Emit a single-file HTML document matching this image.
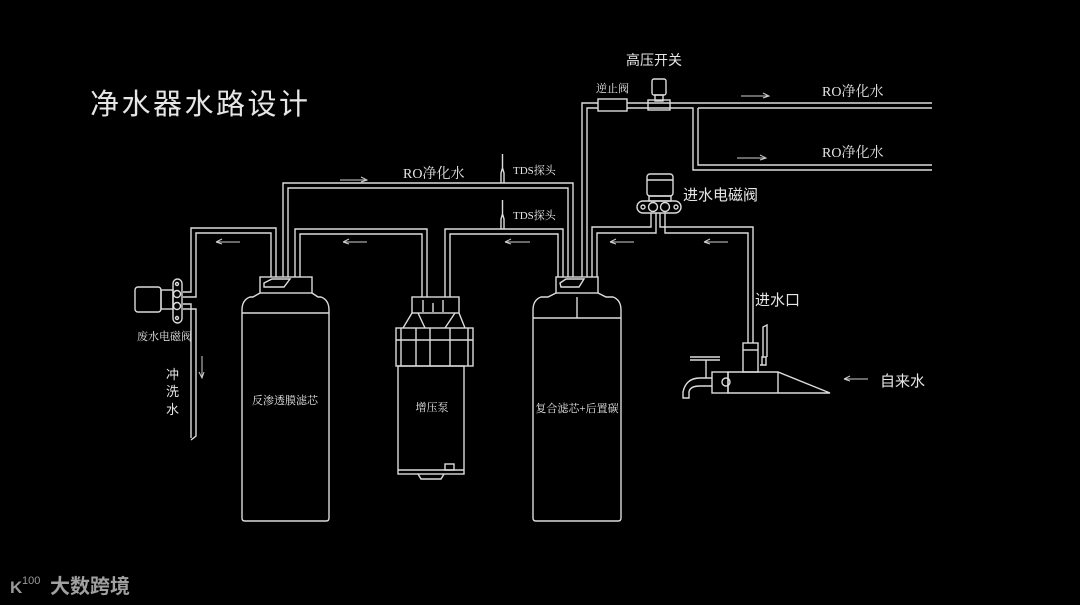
<!DOCTYPE html>
<html><head><meta charset="utf-8"><style>
html,body{margin:0;padding:0;background:#000;}
body{width:1080px;height:605px;overflow:hidden;}
svg{display:block}
text{fill:#e6e6e6;font-family:"Liberation Serif","Noto Serif CJK SC","Noto Sans CJK SC",serif;}
.s{font-family:"Liberation Sans","Noto Sans CJK SC",sans-serif;}
</style></head><body>
<svg width="1080" height="605" viewBox="0 0 1080 605" xmlns="http://www.w3.org/2000/svg">
<g fill="none" stroke="#dcdcdc" stroke-width="1.4">
<polyline points="183,292 191,292 191,228 276,228 276,277"/>
<polyline points="183,297 196,297 196,233 271,233 271,277"/>
<polyline points="183,304 191,304 191,438"/>
<polyline points="183,309 196,309 196,436 191,440"/>
<polyline points="283,277 283,183 573,183 573,277"/>
<polyline points="288,277 288,188 568,188 568,277"/>
<polyline points="295,277 295,229 427,229 427,297"/>
<polyline points="300,277 300,234 422,234 422,297"/>
<polyline points="445,297 445,229 563,229 563,277"/>
<polyline points="450,297 450,234 558,234 558,277"/>
<polyline points="582,277 582,103 598,103"/>
<polyline points="587,277 587,108 598,108"/>
<rect x="598" y="99" width="29" height="12"/>
<line x1="627" y1="103" x2="932" y2="103"/>
<polyline points="627,108 693,108 693,170 932,170"/>
<polyline points="698,108 932,108"/>
<polyline points="698,108 698,165 932,165"/>
<rect x="652" y="79" width="14" height="16" rx="2"/>
<rect x="655" y="95" width="8" height="6"/>
<rect x="648" y="100" width="22" height="10"/>
<polyline points="592,277 592,227 651,227 651,213"/>
<polyline points="597,277 597,233 656,233 656,213"/>
<polyline points="660,213 660,227 753,227 753,343"/>
<polyline points="665,213 665,233 748,233 748,343"/>
<rect x="647" y="174" width="26" height="22" rx="3"/>
<line x1="647" y1="180" x2="673" y2="180"/>
<rect x="649" y="196" width="22" height="5"/>
<rect x="637" y="201" width="44" height="12" rx="6"/>
<circle cx="653" cy="207" r="4.5"/><circle cx="665" cy="207" r="4.5"/>
<circle cx="643" cy="207" r="2"/><circle cx="676" cy="207" r="2"/>
<rect x="135" y="287" width="26" height="25" rx="3"/>
<rect x="161" y="290" width="12" height="19"/>
<rect x="173" y="279" width="9" height="44" rx="4.5"/>
<circle cx="177" cy="294" r="3.5"/><circle cx="177" cy="306" r="3.5"/>
<circle cx="177" cy="284" r="1.5"/><circle cx="177" cy="318" r="1.5"/>
<rect x="260" y="277" width="52" height="16"/>
<path d="M264,283 l8,-4 h18 l-6,8 h-20 z"/>
<path d="M260,293 L253,297 H250 Q242,300 242,310 V518 Q242,521 245,521 H326 Q329,521 329,518 V310 Q329,300 321,297 H318 L312,293"/>
<line x1="242" y1="313" x2="329" y2="313"/>
<rect x="412" y="297" width="47" height="16"/>
<line x1="423" y1="300" x2="423" y2="312"/><line x1="443" y1="300" x2="443" y2="312"/><line x1="433" y1="303" x2="433" y2="312"/>
<path d="M412,313 L403,328 M459,313 L465,328 M418,313 L425,328 M455,313 L445,328"/>
<rect x="396" y="328" width="77" height="38"/>
<line x1="401" y1="328" x2="401" y2="366"/><line x1="468" y1="328" x2="468" y2="366"/>
<line x1="396" y1="340" x2="473" y2="340"/>
<line x1="416" y1="328" x2="416" y2="366"/><line x1="430" y1="328" x2="430" y2="366"/><line x1="450" y1="328" x2="450" y2="366"/>
<rect x="398" y="366" width="66" height="108"/>
<line x1="398" y1="470" x2="464" y2="470"/>
<rect x="445" y="464" width="9" height="6"/>
<path d="M418,474 l3,5 h20 l3,-5"/>
<rect x="556" y="277" width="42" height="16"/>
<path d="M560,283 l6,-4 h18 l-5,8 h-18 z"/>
<path d="M556,293 L548,297 H541 Q533,300 533,310 V518 Q533,521 536,521 H618 Q621,521 621,518 V310 Q621,300 613,297 H606 L598,293"/>
<line x1="533" y1="318" x2="621" y2="318"/>
<line x1="577" y1="297" x2="577" y2="318"/>
<path d="M501,183 v-10 l1.5,-5 v-14 M504,183 v-10 l-1.5,-5"/>
<path d="M501,229 v-10 l1.5,-5 v-14 M504,229 v-10 l-1.5,-5"/>
<rect x="743" y="343" width="15" height="29"/>
<line x1="743" y1="350" x2="758" y2="350"/>
<path d="M760,365 h6 v-8 h-4 v8 M763,357 v-30 l4,-2 v32"/>
<rect x="712" y="372" width="16" height="21"/>
<path d="M728,372 H778 L830,393 H728 Z M778,372 v21"/>
<circle cx="726" cy="382" r="4"/>
<path d="M712,378 H700 Q686,378 683,392 v6 h6 v-6 Q690,386 700,386 H712"/>
<line x1="706" y1="378" x2="706" y2="360"/>
<line x1="690" y1="357" x2="720" y2="357"/>
<line x1="690" y1="360" x2="720" y2="360"/>
</g>
<g fill="none" stroke="#cfcfcf" stroke-width="1">
<path d="M340,180 h27 m-6,-3 l6,3 l-6,2"/>
<path d="M216,242 h24 m-24,0 l6,-3 m-6,3 l6,2"/>
<path d="M343,242 h24 m-24,0 l6,-3 m-6,3 l6,2"/>
<path d="M505,242 h25 m-25,0 l6,-3 m-6,3 l6,2"/>
<path d="M610,242 h24 m-24,0 l6,-3 m-6,3 l6,2"/>
<path d="M704,242 h24 m-24,0 l6,-3 m-6,3 l6,2"/>
<path d="M741,96 h28 m-6,-3 l6,3 l-6,2"/>
<path d="M737,158 h29 m-6,-3 l6,3 l-6,2"/>
<path d="M844,379 h24 m-24,0 l6,-3 m-6,3 l6,2"/>
<path d="M202,356 v22 m-3,-6 l3,6 l2,-6"/>
</g>
<text class="s" x="90" y="114" font-size="29" letter-spacing="2.5">净水器水路设计</text>
<text x="403" y="178" font-size="14">RO净化水</text>
<text x="513" y="174" font-size="11">TDS探头</text>
<text x="513" y="219" font-size="11">TDS探头</text>
<text class="s" x="626" y="65" font-size="14">高压开关</text>
<text x="596" y="92" font-size="11">逆止阀</text>
<text x="822" y="96" font-size="14">RO净化水</text>
<text x="822" y="157" font-size="14">RO净化水</text>
<text class="s" x="683" y="200" font-size="15">进水电磁阀</text>
<text class="s" x="755" y="305" font-size="15">进水口</text>
<text class="s" x="880" y="386" font-size="15">自来水</text>
<text x="137" y="340" font-size="11">废水电磁阀</text>
<text class="s" x="166" y="379" font-size="13">冲</text>
<text class="s" x="166" y="396" font-size="13">洗</text>
<text class="s" x="166" y="414" font-size="13">水</text>
<text x="285" y="404" font-size="11" text-anchor="middle">反渗透膜滤芯</text>
<text x="432" y="411" font-size="11" text-anchor="middle">增压泵</text>
<text x="577" y="412" font-size="11" text-anchor="middle">复合滤芯+后置碳</text>
<text class="s" x="10" y="593" font-size="17" style="fill:#9a9a9a" font-weight="bold">K</text>
<text class="s" x="22" y="584" font-size="11" style="fill:#9a9a9a">100</text>
<text class="s" x="50" y="593" font-size="20" style="fill:#a0a0a0" font-weight="bold">大数跨境</text>
</svg>
</body></html>
